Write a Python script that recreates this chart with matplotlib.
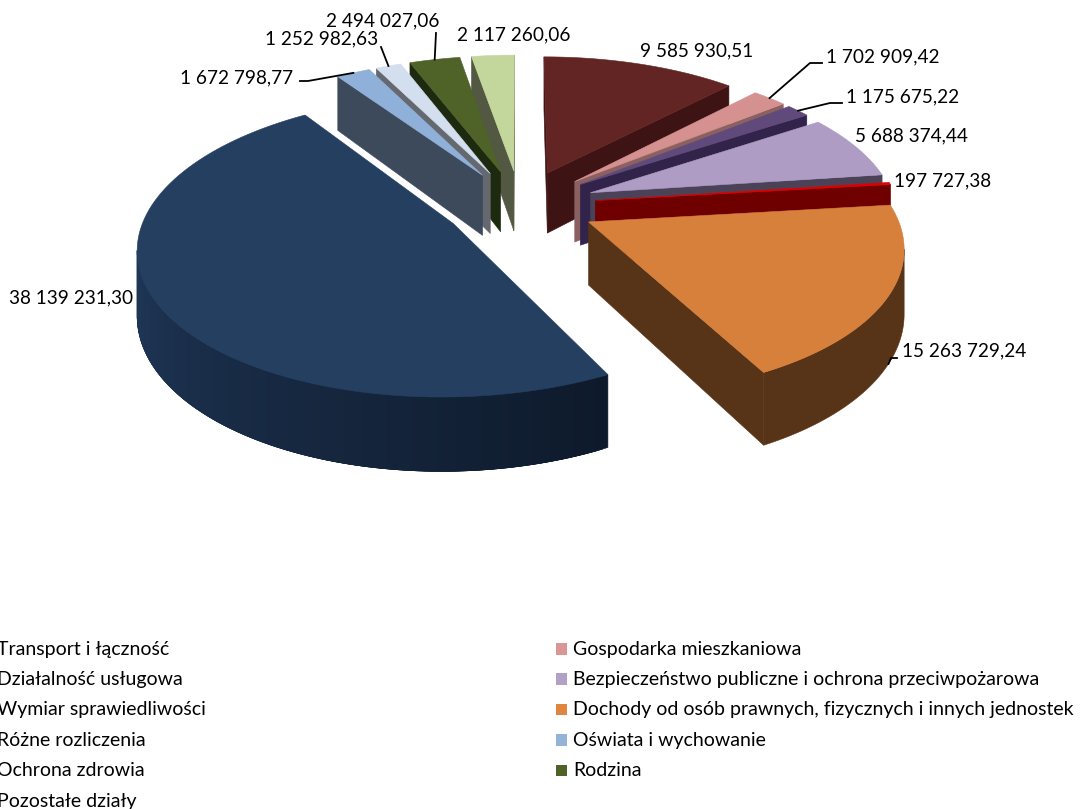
import numpy as np
import matplotlib
matplotlib.use('Agg')
import matplotlib.pyplot as plt
from matplotlib.colors import to_rgb
from matplotlib.patches import Polygon, Rectangle

# data
categories = ['Transport i łączność', 'Gospodarka mieszkaniowa', 'Działalność usługowa',
              'Bezpieczeństwo publiczne i ochrona przeciwpożarowa', 'Wymiar sprawiedliwości',
              'Dochody od osób prawnych, fizycznych i innych jednostek', 'Różne rozliczenia',
              'Oświata i wychowanie', 'Ochrona zdrowia', 'Rodzina', 'Pozostałe działy']
values = [9585930.51, 1702909.42, 1175675.22, 5688374.44, 197727.38, 15263729.24,
          38139231.30, 1672798.77, 1252982.63, 2494027.06, 2117260.06]

# colours
topColors = ['#632523', '#d59190', '#5f4a7b', '#ae9cc4', '#e00000', '#d6803c',
             '#243f60', '#8fb0d8', '#d3dfee', '#4f6228', '#c3d69b']
wallColors = ['#3d1413', '#8b6060', '#32234b', '#4b4257', '#6e0000', '#573318',
              '#0e1a2b', '#3c4a5c', '#666870', '#1e2a0f', '#535843']
legendColors = ['#632523', '#d99694', '#5f4a7b', '#b2a1c7', '#c00000', '#e0853f',
                '#243f60', '#95b3d7', '#d3dfee', '#4f6228', '#c3d69b']
navyWallLight = '#213a5c'

# pie geometry, fitted by eye
cx, cy = 520, 205
rx, ry = 305, 142
persp = 0.147
depth = 62
explode = 0.25

def project(X, Z, h=0):
    s = 1 / (1 + persp * Z)
    return cx + rx * X * s, cy - ry * Z * s + depth * h * s

def slicePoints(a0, a1, n):
    mid = (a0 + a1) / 2
    ox, oz = explode * np.sin(mid), explode * np.cos(mid)
    th = np.linspace(a0, a1, n)
    return (ox, oz), ox + np.sin(th), oz + np.cos(th)

def label(v):
    whole, frac = f'{v:.2f}'.split('.')
    return f'{int(whole):,}'.replace(',', ' ') + ',' + frac

plt.rcParams['font.family'] = ['Lato', 'DejaVu Sans']
fig = plt.figure(figsize=(10.81, 8.09), dpi=100)
ax = fig.add_axes([0, 0, 1, 1])
ax.set_xlim(0, 1081)
ax.set_ylim(809, 0)
ax.axis('off')

total = sum(values)
edges = np.radians(np.concatenate([[0], np.cumsum(values) / total * 360]))

def wallBand(path, color, z):
    # path is a list of (X, Z) pairs on the disk, top edge then bottom edge back
    pts = [project(*p) for p in path] + [project(*p, 1) for p in path[::-1]]
    ax.add_patch(Polygon(pts, closed=True, facecolor=color, edgecolor=color, lw=0.4, zorder=z))

# back to front
order = sorted(range(len(values)),
               key=lambda i: -np.cos((edges[i] + edges[i + 1]) / 2))
for rank, i in enumerate(order):
    a0, a1 = edges[i], edges[i + 1]
    n = max(int(np.degrees(a1 - a0)), 4) + 1
    apex, xs, zs = slicePoints(a0, a1, n)
    base = 10 + rank * 3
    # radial faces
    if project(xs[0], zs[0])[0] < project(*apex)[0]:
        wallBand([apex, (xs[0], zs[0])], wallColors[i], base)
    if project(*apex)[0] < project(xs[-1], zs[-1])[0]:
        wallBand([(xs[-1], zs[-1]), apex], wallColors[i], base)
    # outer wall, only the part facing us
    seen = [j for j in range(n) if j < n - 1 and project(xs[j + 1], zs[j + 1])[0] < project(xs[j], zs[j])[0]]
    if seen:
        if categories[i] == 'Różne rozliczenia':
            # gradient: each band overlaps the next so no seams show
            for j in seen:
                t = np.clip(j / (n * 0.68), 0, 1)
                color = tuple((1 - t) * np.array(to_rgb(wallColors[i])) + t * np.array(to_rgb(navyWallLight)))
                end = min(j + 3, seen[-1] + 1)
                wallBand(list(zip(xs[j:end + 1], zs[j:end + 1])), color, base + 1 + j / n)
        else:
            path = list(zip(xs[seen[0]:seen[-1] + 2], zs[seen[0]:seen[-1] + 2]))
            wallBand(path, wallColors[i], base + 1)
    top = [project(*apex)] + [project(x, z) for x, z in zip(xs, zs)]
    ax.add_patch(Polygon(top, closed=True, facecolor=topColors[i], edgecolor=topColors[i],
                         lw=0.4, zorder=base + 2))

# data labels: left edge, centre y, leader elbow points, leader on wall bottom
labelPos = [(640, 51), (826, 57), (846, 97), (855, 136), (894, 181), (902, 351),
            (9, 298), (180, 78), (265, 39), (326, 21), (457, 35)]
leaders = [None, [(810, 63), (822, 63)], [(830, 103), (842, 103)], None, None,
           [(891, 358), (897, 358)], None, [(308, 81), (300, 81)], [(381, 47)], [(436, 33)], None]
leaderDrop = [0, 0, 0, 0, 0, 1, 0, 0, 0, 0, 0]

for i, v in enumerate(values):
    x, y = labelPos[i]
    ax.text(x, y, label(v), fontsize=13.7, ha='left', va='center', color='black', zorder=100)
    if leaders[i]:
        _, xs, zs = slicePoints(edges[i], edges[i + 1], 3)
        start = project(xs[1], zs[1], leaderDrop[i])
        pts = [start] + leaders[i]
        ax.plot([p[0] for p in pts], [p[1] for p in pts], color='black', lw=1.3, zorder=99)

# legend, goes off the left and bottom edge like the original
for i, cat in enumerate(categories):
    row = i // 2
    y = 649 + row * 30.4
    if i % 2 == 0:
        markerX, textX = -20, -3
    else:
        markerX, textX = 555.5, 573
    ax.add_patch(Rectangle((markerX, y - 6), 11.5, 11.5, facecolor=legendColors[i], edgecolor='none', zorder=50))
    ax.text(textX, y, cat, fontsize=14.05, ha='left', va='center', color='black', zorder=50)

fig.savefig('out.png', dpi=100)
